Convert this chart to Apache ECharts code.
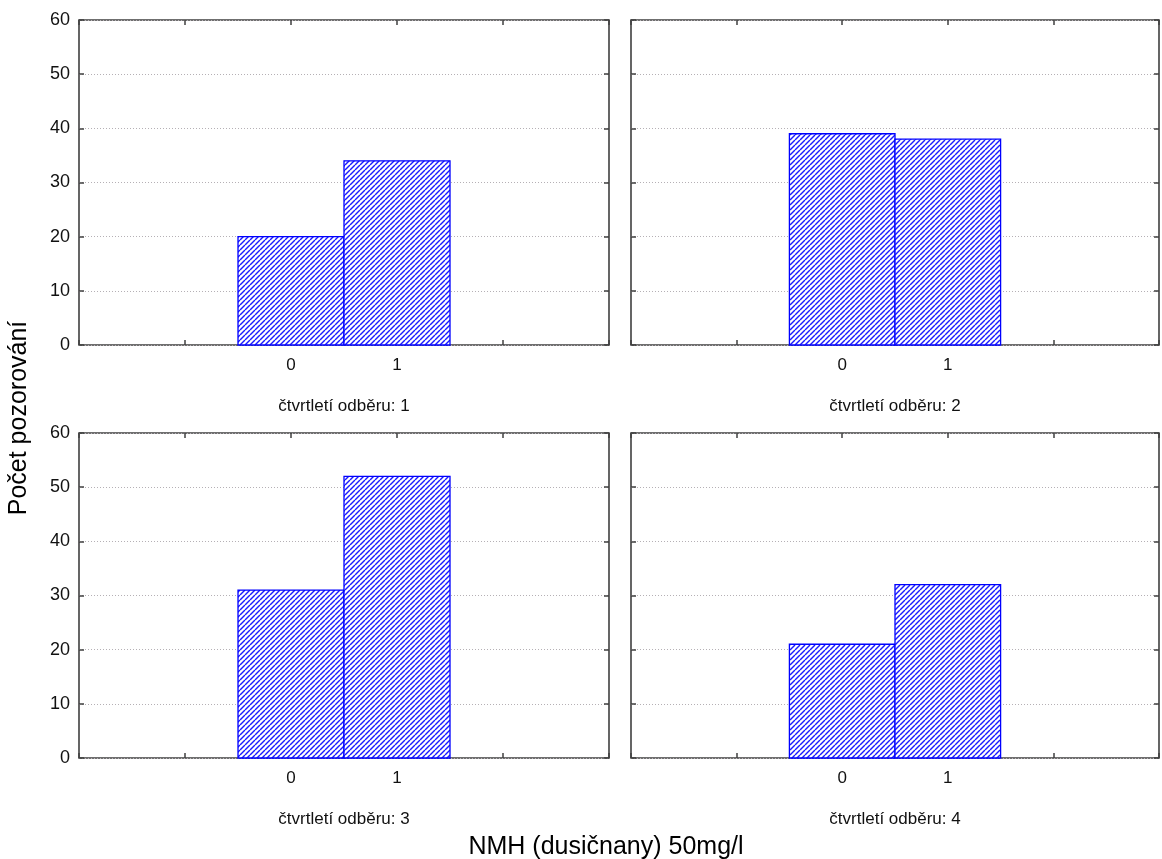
<!DOCTYPE html>
<html>
<head>
<meta charset="utf-8">
<script src="https://cdn.jsdelivr.net/npm/echarts@6/dist/echarts.min.js"></script>
<style>
html,body{margin:0;padding:0;background:#fff;}
#c{width:1162px;height:859px;}
</style>
</head>
<body>
<div id="c"></div>
<script>
// ---- data ----
const categories = [0, 1];
const panelTitles = ['čtvrtletí odběru: 1', 'čtvrtletí odběru: 2', 'čtvrtletí odběru: 3', 'čtvrtletí odběru: 4'];
const q1 = [20, 34];
const q2 = [39, 38];
const q3 = [31, 52];
const q4 = [21, 32];
const seriesValues = [q1, q2, q3, q4];
const yTicks = [0, 10, 20, 30, 40, 50, 60];
const xTitle = 'NMH (dusičnany) 50mg/l';
const yTitle = 'Počet pozorování';

// ---- hatch pattern ----
function makeHatch() {
  const n = 5;
  const c = document.createElement('canvas');
  c.width = n; c.height = n;
  const ctx = c.getContext('2d');
  ctx.fillStyle = '#ffffff';
  ctx.fillRect(0, 0, n, n);
  ctx.strokeStyle = '#1a1aff';
  ctx.lineWidth = 1.4;
  for (const off of [-n, 0, n]) {
    ctx.beginPath();
    ctx.moveTo(off, n);
    ctx.lineTo(off + n, 0);
    ctx.stroke();
  }
  return c;
}
const hatch = { image: makeHatch(), repeat: 'repeat' };

const FONT = 'Arial, "Liberation Sans", sans-serif';
const frameColor = '#404040';

const grids = [
  { left: 79, top: 20, width: 530, height: 325 },
  { left: 631, top: 20, width: 530, height: 325 },
  { left: 79, top: 433, width: 530, height: 325 },
  { left: 631, top: 433, width: 530, height: 325 }
];

const xAxes = [], yAxes = [], series = [];
grids.forEach((g, i) => {
  g.show = true;
  g.borderColor = frameColor;
  g.borderWidth = 1.6;
  g.backgroundColor = '#fff';
  const showY = (i % 2 === 0);
  xAxes.push({
    type: 'value', gridIndex: i, position: 'bottom', min: -2, max: 3, interval: 1,
    axisLine: { show: false, onZero: false },
    axisTick: { show: true, inside: true, length: 5, lineStyle: { color: frameColor, width: 1.5 } },
    axisLabel: {
      margin: 12, color: '#111', fontFamily: FONT, fontSize: 17,
      formatter: v => (categories.indexOf(v) >= 0 ? String(v) : '')
    },
    splitLine: { show: false },
    name: panelTitles[i], nameLocation: 'middle', nameGap: 53,
    nameTextStyle: { color: '#111', fontFamily: FONT, fontSize: 17 }
  });
  xAxes.push({
    type: 'value', gridIndex: i, position: 'top', min: -2, max: 3, interval: 1,
    axisLine: { show: false, onZero: false },
    axisTick: { show: true, inside: true, length: 5, lineStyle: { color: frameColor, width: 1.5 } },
    axisLabel: { show: false },
    splitLine: { show: false }
  });
  yAxes.push({
    type: 'value', gridIndex: i, position: 'left', min: 0, max: 60, interval: 10,
    axisLine: { show: false, onZero: false },
    axisTick: { show: true, inside: true, length: 5, lineStyle: { color: frameColor, width: 1.5 } },
    axisLabel: {
      show: showY, margin: 9, color: '#111', fontFamily: FONT, fontSize: 18,
      formatter: v => (yTicks.indexOf(v) >= 0 ? String(v) : '')
    },
    splitLine: { show: true, lineStyle: { color: '#b5b0b5', type: [1, 2], width: 1 } }
  });
  yAxes.push({
    type: 'value', gridIndex: i, position: 'right', min: 0, max: 60, interval: 10,
    axisLine: { show: false, onZero: false },
    axisTick: { show: true, inside: true, length: 5, lineStyle: { color: frameColor, width: 1.5 } },
    axisLabel: { show: false },
    splitLine: { show: false }
  });
  series.push({
    type: 'custom',
    xAxisIndex: i * 2,
    yAxisIndex: i * 2,
    data: categories.map((c, k) => [c, seriesValues[i][k]]),
    renderItem: function (params, api) {
      const x = api.value(0), y = api.value(1);
      const p1 = api.coord([x - 0.5, y]);
      const p2 = api.coord([x + 0.5, 0]);
      return {
        type: 'rect',
        shape: { x: p1[0], y: p1[1], width: p2[0] - p1[0], height: p2[1] - p1[1] },
        style: { fill: hatch, stroke: '#0000ff', lineWidth: 1.3 }
      };
    },
    z: 3
  });
});

const chart = echarts.init(document.getElementById('c'), null, { renderer: 'canvas' });
chart.setOption({
  backgroundColor: '#ffffff',
  animation: false,
  grid: grids,
  xAxis: xAxes,
  yAxis: yAxes,
  series: series,
  graphic: [
    {
      type: 'text', x: 19, y: 418, rotation: Math.PI / 2,
      style: { text: yTitle, fill: '#000', font: '25px ' + FONT, textAlign: 'center', textVerticalAlign: 'middle' }
    },
    {
      type: 'text', x: 606, y: 847,
      style: { text: xTitle, fill: '#000', font: '25px ' + FONT, textAlign: 'center', textVerticalAlign: 'middle' }
    }
  ]
});
</script>
</body>
</html>
